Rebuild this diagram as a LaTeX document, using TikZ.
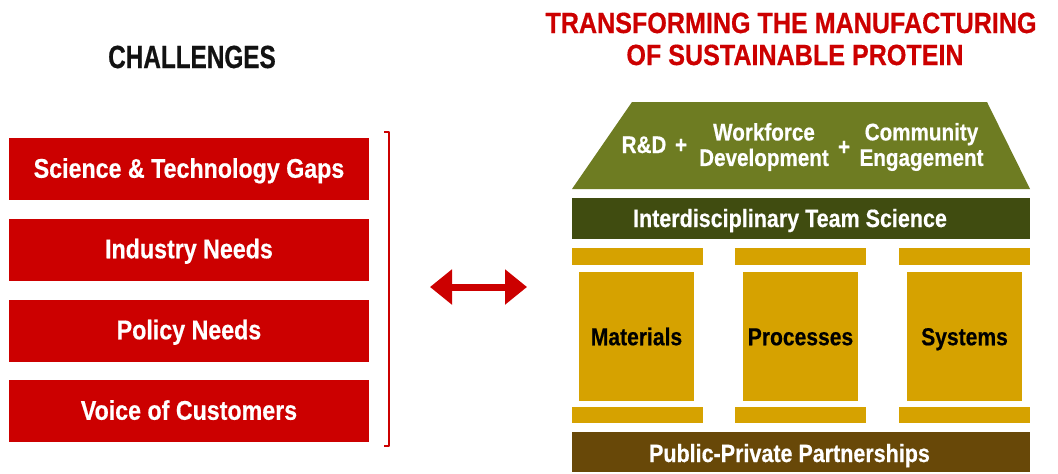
\documentclass[tikz,border=0pt]{standalone}
\usepackage{fontspec}
\setmainfont{Liberation Sans}[FakeStretch=0.86,FakeBold=0.5]
\newfontfamily\chalfont{Liberation Sans}[FakeStretch=0.76,FakeBold=0.5]
\usetikzlibrary{arrows.meta}
\definecolor{cred}{RGB}{204,0,0}
\definecolor{olive}{RGB}{110,124,34}
\definecolor{dgreen}{RGB}{64,76,16}
\definecolor{gold}{RGB}{214,162,0}
\definecolor{brown}{RGB}{104,72,8}
\tikzset{
  redbox/.style={fill=cred, inner sep=0pt, outer sep=0pt, minimum width=360pt, minimum height=62pt,
    text=white, font=\fontsize{27}{30}\selectfont\bfseries, text height=19pt, text depth=1.5pt},
  bar/.style={inner sep=0pt, outer sep=0pt, minimum width=458pt},
  capbar/.style={fill=gold, inner sep=0pt, outer sep=0pt, minimum width=131pt, minimum height=17pt},
  column/.style={fill=gold, inner sep=0pt, outer sep=0pt, minimum width=115pt, minimum height=129pt,
    font=\fontsize{24.5}{27}\selectfont\bfseries, text=black, text height=17.5pt, text depth=0pt},
  wtext/.style={text=white, inner sep=0pt, font=\fontsize{24}{25.5}\selectfont\bfseries, align=center},
  heading/.style={text=cred, inner sep=0pt, anchor=base, font=\fontsize{29.2}{32}\selectfont\bfseries},
}
\begin{document}
\begin{tikzpicture}[x=1pt,y=-1pt]
\useasboundingbox (0,0) rectangle (1058,474);
% headings
\node[inner sep=0pt, anchor=base, font=\fontsize{32}{34}\chalfont\bfseries, text={black!93}] (chal) at (192,68) {CHALLENGES};
\node[heading] (h1) at (791,33) {TRANSFORMING THE MANUFACTURING};
\node[heading] (h2) at (795,65) {OF SUSTAINABLE PROTEIN};
% left boxes
\node[redbox] (b1) at (189,169) {Science \& Technology Gaps};
\node[redbox] (b2) at (189,249.5) {Industry Needs};
\node[redbox] (b3) at (189,330.5) {Policy Needs};
\node[redbox] (b4) at (189,411) {Voice of Customers};
% bracket
\coordinate (brt) at (384,132);
\coordinate (brb) at (384,446);
\draw[cred, line width=2.4pt, line join=round] (brt) -- ++(5,0) |- (brb);
% arrow
\coordinate (al) at (430,287);
\coordinate (ar) at (527,287);
\draw[cred, line width=7pt, {Triangle[width=34pt,length=22pt]}-{Triangle[width=34pt,length=22pt]}] (al) -- (ar);
% roof
\fill[olive] (572,189) -- (1030,189) -- (987,102) -- (632,102) -- cycle;
\node[wtext, anchor=base] (rd) at (644,153) {R\&D};
\node[wtext] (p1) at (681,146) {+};
\node[wtext] (wf) at (764,147) {Workforce\\Development};
\node[wtext] (p2) at (844,148) {+};
\node[wtext] (ce) at (921.5,147) {Community\\Engagement};
% team science
\node[bar, fill=dgreen, minimum height=41pt] (team) at (801,218.5) {};
\node[wtext, anchor=base, font=\fontsize{25}{27}\selectfont\bfseries] (teamt) at (790,227) {Interdisciplinary Team Science};
% capitals
\node[capbar] (c1t) at (637,256.5) {};
\node[capbar] (c2t) at (800.5,256.5) {};
\node[capbar] (c3t) at (964,256.5) {};
\node[column] (m) at (636.5,336.5) {Materials};
\node[column] (p) at (800.5,336.5) {Processes};
\node[column] (s) at (964.5,336.5) {Systems};
\node[capbar, minimum height=16pt] (c1b) at (637,415) {};
\node[capbar, minimum height=16pt] (c2b) at (800.5,415) {};
\node[capbar, minimum height=16pt] (c3b) at (964,415) {};
% base
\node[bar, fill=brown, minimum height=40pt] (base) at (801,452) {};
\node[wtext, anchor=base, font=\fontsize{25}{27}\selectfont\bfseries] (baset) at (789.5,462) {Public-Private Partnerships};
\end{tikzpicture}
\end{document}
